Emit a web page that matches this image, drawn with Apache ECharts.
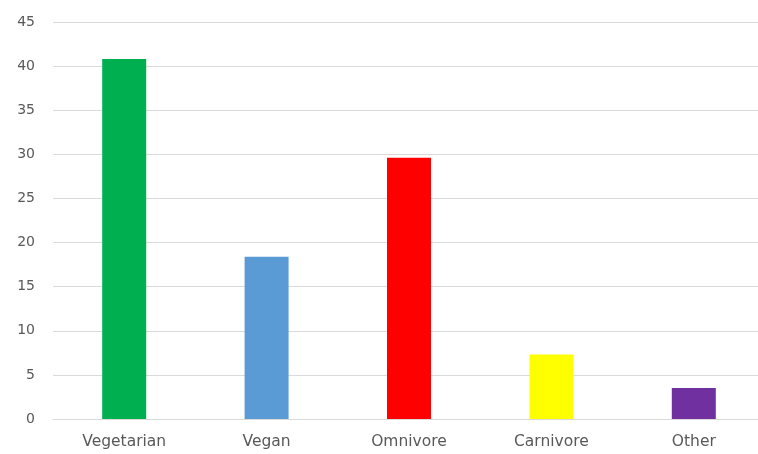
<!DOCTYPE html>
<html>
<head>
<meta charset="utf-8">
<script src="https://cdn.jsdelivr.net/npm/echarts@6/dist/echarts.min.js"></script>
<style>
  html, body { margin: 0; padding: 0; background: #fff; }
  #chart { width: 758px; height: 454px; }
</style>
</head>
<body>
<div id="chart"></div>
<script>
// categories and values
var categories = ['Vegetarian', 'Vegan', 'Omnivore', 'Carnivore', 'Other'];
var values = [40.8, 18.4, 29.6, 7.3, 3.5];
var barColors = ['#00B050', '#5B9BD5', '#FF0000', '#FFFF00', '#7030A0'];

var mychart = echarts.init(document.getElementById('chart'));
var option = {
    animation: false,
    grid: {
        left: 53,
        top: 22,
        width: 712,
        bottom: 35,
        // the plot runs past the right edge of the picture
        outerBoundsMode: 'none'
    },
    xAxis: {
        type: 'category',
        data: categories,
        axisLine: { lineStyle: { color: '#d9d9d9' } },
        axisTick: { show: false },
        axisLabel: {
            color: '#595959',
            fontSize: 15.5,
            fontFamily: 'DejaVu Sans',
            margin: 15
        }
    },
    yAxis: {
        type: 'value',
        min: 0,
        max: 45,
        interval: 5,
        axisLine: { show: false },
        axisTick: { show: false },
        splitLine: { lineStyle: { color: '#d9d9d9' } },
        axisLabel: {
            color: '#595959',
            fontSize: 14,
            fontFamily: 'DejaVu Sans',
            margin: 18
        }
    },
    series: [{
        type: 'bar',
        barWidth: 44,
        data: values.map(function (v, i) {
            return { value: v, itemStyle: { color: barColors[i] } };
        })
    }]
};
mychart.setOption(option);
</script>
</body>
</html>
